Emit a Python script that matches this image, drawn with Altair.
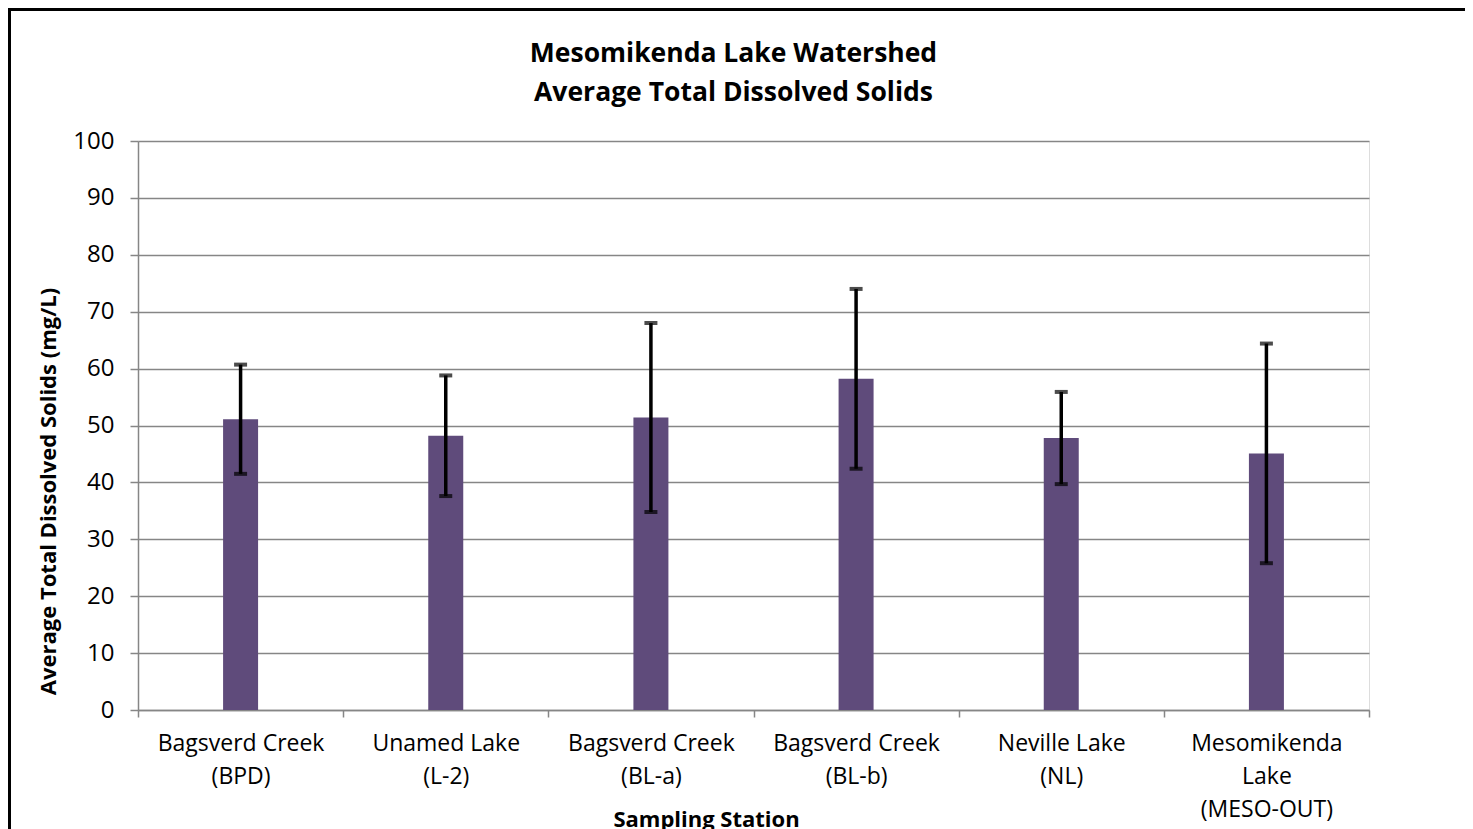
import altair as alt
import pandas as pd

# ---- data ----
stations = [
    "Bagsverd Creek|(BPD)",
    "Unamed Lake|(L-2)",
    "Bagsverd Creek|(BL-a)",
    "Bagsverd Creek|(BL-b)",
    "Neville Lake|(NL)",
    "Mesomikenda|Lake|(MESO-OUT)",
]
means = [51.1, 48.2, 51.4, 58.2, 47.8, 45.1]
lower = [41.5, 37.6, 34.8, 42.4, 39.7, 25.8]
upper = [60.7, 58.8, 68.0, 74.0, 55.9, 64.4]
y_ticks = [0, 10, 20, 30, 40, 50, 60, 70, 80, 90, 100]

df = pd.DataFrame({"station": stations, "mean": means, "lower": lower, "upper": upper})

FONT = "Open Sans"
GRAY = "#868686"
PURPLE = "#5F4B7B"
W, H = 1231, 569
Y_TITLE = "Average Total Dissolved Solids (mg/L)"

x_enc = alt.X(
    "station:N",
    sort=stations,
    scale=alt.Scale(paddingInner=0, paddingOuter=0),
    axis=alt.Axis(
        title="Sampling Station",
        labelExpr="split(datum.label, '|')",
        labelAngle=0,
        labelFont=FONT,
        labelFontSize=23,
        labelColor="black",
        labelLineHeight=33,
        labelPadding=15,
        labelBaseline="top",
        tickBand="extent",
        tickSize=7,
        tickColor=GRAY,
        tickWidth=1.5,
        domainColor=GRAY,
        domainWidth=1.5,
        titleFont=FONT,
        titleFontSize=22,
        titleFontWeight="bold",
        titleColor="black",
        titleX=568,
        titleY=109,
        titleBaseline="middle",
    ),
)

y_axis = alt.Axis(
    title=Y_TITLE,
    values=y_ticks,
    grid=True,
    gridColor=GRAY,
    gridWidth=1.4,
    tickSize=8,
    tickColor=GRAY,
    tickWidth=1.5,
    domainColor=GRAY,
    domainWidth=1.5,
    labelFont=FONT,
    labelFontSize=24,
    labelColor="black",
    labelPadding=16,
    titleFont=FONT,
    titleFontSize=22,
    titleFontWeight="bold",
    titleColor="black",
    titleAngle=270,
    titleAlign="center",
    titleBaseline="middle",
    titleX=-90,
    titleY=350,
)
y_scale = alt.Scale(domain=[0, 100], nice=False)

bars = alt.Chart(df).mark_bar(size=35, color=PURPLE).encode(
    x=x_enc,
    y=alt.Y("mean:Q", scale=y_scale, axis=y_axis),
)

err = alt.Chart(df).mark_rule(color="black", strokeWidth=3.5).encode(
    x=x_enc,
    y=alt.Y("lower:Q", scale=y_scale, axis=y_axis),
    y2="upper:Q",
)
cap_lo = alt.Chart(df).mark_tick(color="black", thickness=4, size=13).encode(
    x=x_enc, y=alt.Y("lower:Q", scale=y_scale, axis=y_axis)
)
cap_hi = alt.Chart(df).mark_tick(color="black", thickness=4, size=13).encode(
    x=x_enc, y=alt.Y("upper:Q", scale=y_scale, axis=y_axis)
)

frame = pd.DataFrame({"k": [0]})
left_border = alt.Chart(frame).mark_rule(color="black", strokeWidth=3, strokeCap="butt").encode(
    x=alt.value(-128.5), y=alt.value(-133), y2=alt.value(H + 200)
)
top_border = alt.Chart(frame).mark_rule(color="black", strokeWidth=3, strokeCap="butt").encode(
    x=alt.value(-130), x2=alt.value(W + 200), y=alt.value(-131.5)
)

chart = (
    alt.layer(bars, err, cap_lo, cap_hi, left_border, top_border)
    .properties(
        width=W,
        height=H,
        title=alt.TitleParams(
            ["Mesomikenda Lake Watershed", "Average Total Dissolved Solids"],
            font=FONT,
            fontSize=26.5,
            fontWeight="bold",
            color="black",
            lineHeight=39,
            anchor="middle",
            dx=-20,
            offset=0,
            dy=100,
        ),
        autosize=alt.AutoSizeParams(type="none"),
        padding={"left": 130, "top": 133, "right": 96, "bottom": 119},
    )
    .configure_view(stroke=None)
    .configure(background="white")
)

chart.save("out.html", embed_options={"renderer": "svg", "actions": False})
